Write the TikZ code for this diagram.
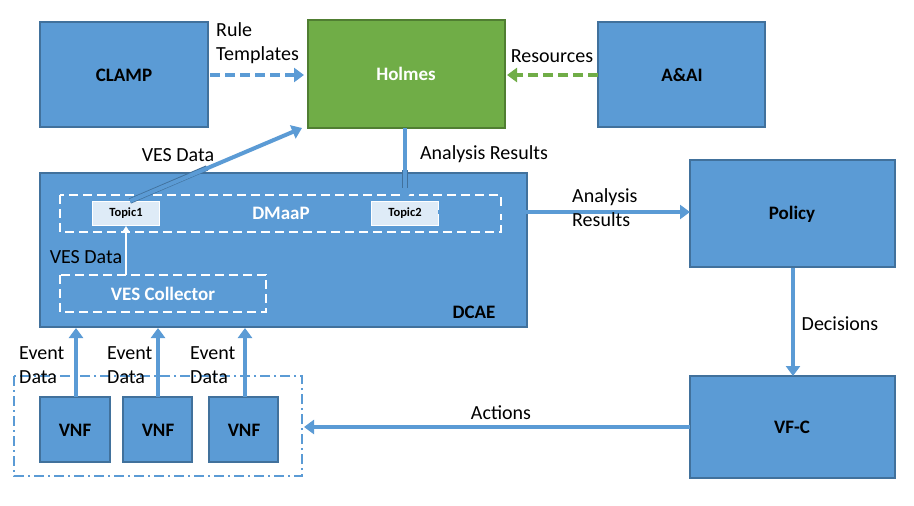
\documentclass[tikz,border=0pt]{standalone}
\usepackage{fontspec}
\setmainfont{Carlito}
\usetikzlibrary{arrows.meta}
\definecolor{bfill}{HTML}{5B9BD5}
\definecolor{bdraw}{HTML}{41719C}
\definecolor{gfill}{HTML}{70AD47}
\definecolor{gdraw}{HTML}{507E32}
\definecolor{tfill}{HTML}{DEEBF7}
\begin{document}
\begin{tikzpicture}[x=1pt,y=-1pt,
  box/.style={draw=bdraw,fill=bfill,line width=1.8pt},
  bt/.style={font=\bfseries\fontsize{19}{22}\selectfont},
  lab/.style={font=\fontsize{20}{24}\selectfont,align=left},
  arr/.style={draw=bfill,line width=4pt,-{Triangle[length=10pt,width=14pt]}},
  dbox/.style={draw=white,line width=2.2pt,dash pattern=on 9pt off 5pt}]
\useasboundingbox (0,0) rectangle (914,506);
\fill[white] (0,0) rectangle (914,506);
% boxes
\draw[box] (40,22) rectangle (208,127); \node[bt] (clamp) at (124,75) {CLAMP};
\draw[box,fill=gfill,draw=gdraw] (308,20) rectangle (505,128); \node[bt,white] (holmes) at (406,74) {Holmes};
\draw[box] (598,22) rectangle (765,127); \node[bt] (aai) at (682,75) {A\&AI};
\draw[box] (40,173) rectangle (527,327);
\node[bt] (dcae) at (474,312) {DCAE};
\draw[dbox] (60,195) rectangle (501,232);
\node[bt,white] (dmaap) at (281,213) {DMaaP};
\node[fill=tfill,draw=white,line width=0.8pt,minimum width=67pt,minimum height=24pt,inner sep=0pt,font=\bfseries\fontsize{12.5}{14}\selectfont] (t1) at (126,213) {Topic1};
\node[fill=tfill,draw=white,line width=0.8pt,minimum width=67pt,minimum height=24pt,inner sep=0pt,font=\bfseries\fontsize{12.5}{14}\selectfont] (t2) at (405,213) {Topic2};
\draw[dbox] (60,275) rectangle (266,312);
\node[bt,white] (ves) at (163,294) {VES Collector};
\draw[box] (690,160) rectangle (895,267); \node[bt] (policy) at (792,214) {Policy};
\draw[box] (690,376) rectangle (895,478); \node[bt] (vfc) at (792,427) {VF-C};
\draw[box] (40,397) rectangle (110,462); \node[bt] (v1) at (75,430) {VNF};
\draw[box] (123,397) rectangle (192,462); \node[bt] (v2) at (158,430) {VNF};
\draw[box] (209,397) rectangle (278,462); \node[bt] (v3) at (244,430) {VNF};
\draw[draw=bfill,line width=1.8pt,dash pattern=on 10pt off 4pt on 2pt off 4pt] (14,376) rectangle (302,476);
\coordinate (grp) at (304,427);
% arrows
\draw[arr,dash pattern=on 10pt off 5pt] (210,75) -- (304,75);
\draw[arr,draw=gfill,dash pattern=on 10pt off 5pt] (598,75) -- (507,75);
\draw[draw=bdraw,line width=5.5pt] (130,201) -- (207,168);
\draw[arr] (130,201) -- (302,128);
\draw[draw=bdraw,line width=5.5pt] (405,170) -- (405,188);
\draw[draw=bfill,line width=4pt] (405,128) -- (405,188);
\draw[draw=bfill,line width=1.5pt,-{Triangle[length=7pt,width=9pt]}] (405,186) -- (405,201);
\draw[arr] (438,212) -- (690,212);
\draw[draw=white,line width=1.5pt,-{Triangle[length=6pt,width=7pt]}] (126,275) -- (126,226);
\draw[arr] (793,268) -- (793,376);
\draw[arr] (690,427) -- (304,427);
\draw[arr] (76,397) -- (76,328);
\draw[arr] (158,397) -- (158,328);
\draw[arr] (245,397) -- (245,328);
% labels
\node[lab,anchor=north west,inner sep=0pt] (l1) at (216,22) {Rule\\Templates};
\node[lab,inner sep=0pt] (l2) at (552,56) {Resources};
\node[lab,inner sep=0pt] (l3) at (178,155) {VES Data};
\node[lab,inner sep=0pt] (l4) at (484,154) {Analysis Results};
\node[lab,anchor=north west,inner sep=0pt] (l5) at (572,188) {Analysis\\Results};
\node[lab,inner sep=0pt] (l6) at (86,257) {VES Data};
\node[lab,inner sep=0pt] (l7) at (840,324) {Decisions};
\node[lab,inner sep=0pt] (l8) at (501,413) {Actions};
\node[lab,anchor=north west,inner sep=0pt] (e1) at (19,346) {Event\\Data};
\node[lab,anchor=north west,inner sep=0pt] (e2) at (107,346) {Event\\Data};
\node[lab,anchor=north west,inner sep=0pt] (e3) at (190,346) {Event\\Data};
\end{tikzpicture}
\end{document}
